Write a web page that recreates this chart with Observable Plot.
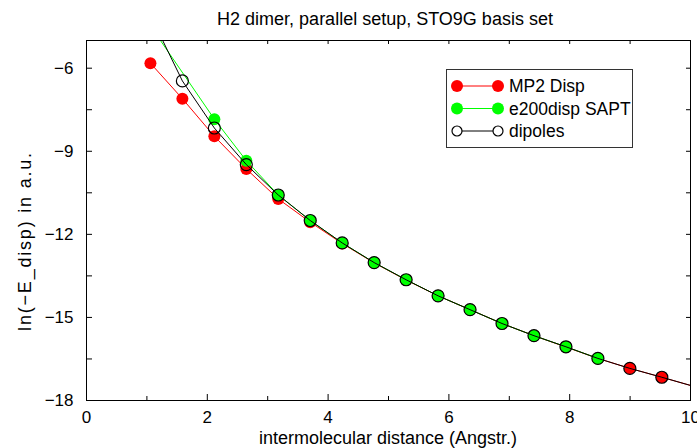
<!DOCTYPE html>
<html><head><meta charset="utf-8">
<script src="https://cdn.jsdelivr.net/npm/d3@7"></script>
<script src="https://cdn.jsdelivr.net/npm/@observablehq/plot@0.6"></script>
<style>
body{margin:0;background:#fff;overflow:hidden;font-family:"Liberation Sans",Arial,sans-serif;}
#wrap{position:relative;width:697px;height:448px;overflow:hidden;background:#fff;}
#title{width:697px;height:30px;box-sizing:border-box;padding-left:73px;padding-top:10px;font-size:18px;line-height:18px;text-align:center;color:#000;white-space:nowrap;}
svg{display:block;overflow:visible;}
</style></head><body><div id="wrap"><div id="title"></div></div>
<script>
const titleText = "H2 dimer, parallel setup, STO9G basis set";
const xLabel = "intermolecular distance (Angstr.)";
const yLabel = "ln(−E_disp) in a.u.";
const seriesNames = ["MP2 Disp", "e200disp SAPT", "dipoles"];
const seriesColors = ["#ff0000", "#00ff00", "#000000"];

// distances in bohr (converted to Angstrom below)
const bohrToAngstrom = 0.529177;
const mp2Bohr = [2,3,4,5,6,7,8,9,10,11,12,13,14,15,16,17,18,19];
const mp2Vals = [-5.82,-7.10,-8.46,-9.64,-10.72,-11.56,-12.33,-13.03,-13.65,-14.22,-14.72,-15.22,-15.66,-16.07,-16.48,-16.84,-17.16,-17.49];
const saptBohr = [2,4,5,6,7,8,9,10,11,12,13,14,15,16];
const saptVals = [-4.47,-7.84,-9.34,-10.58,-11.50,-12.31,-13.02,-13.64,-14.22,-14.72,-15.22,-15.66,-16.06,-16.48];
const dipBohr = [2,3,4,5,6,7,8,9,10,11,12,13,14,15,16,17,18,19];
const dipVals = [-4.09,-6.46,-8.16,-9.48,-10.58,-11.50,-12.31,-13.02,-13.64,-14.22,-14.72,-15.22,-15.66,-16.06,-16.48,-16.84,-17.16,-17.49];

const xTicks = [0,2,4,6,8,10];
const xMinorTicks = [1,3,5,7,9];
const yTicks = [-18,-15,-12,-9,-6];
const yMinorTicks = [-16.5,-13.5,-10.5,-7.5];
const xDomain = [0,10];
const yDomain = [-18,-5];

const toRows = (ns, vs) => ns.map((n,i) => ({x: n*bohrToAngstrom, y: vs[i]}));
const mp2 = toRows(mp2Bohr, mp2Vals);
const sapt = toRows(saptBohr, saptVals);
const dip = toRows(dipBohr, dipVals);
const inRange = d => d.x >= xDomain[0] && d.x <= xDomain[1] && d.y >= yDomain[0] && d.y <= yDomain[1];

document.getElementById("title").textContent = titleText;

const W = 697, H = 418, mL = 86, mR = 7, mT = 10, mB = 48;
const pw = W - mL - mR, ph = H - mT - mB;
const fmt = d => d < 0 ? "\u2212" + Math.abs(d) : String(d);

const chart = Plot.plot({
  width: W, height: H,
  marginLeft: mL, marginRight: mR, marginTop: mT, marginBottom: mB,
  style: {fontFamily: "'Liberation Sans', Arial, sans-serif", fontSize: "17px", color: "#000", background: "#fff", overflow: "visible"},
  x: {domain: xDomain},
  y: {domain: yDomain},
  marks: [
    // inward ticks, bottom/top
    Plot.ruleX(xTicks, {x: d => d, insetTop: ph - 6, stroke: "#000"}),
    Plot.ruleX(xMinorTicks, {x: d => d, insetTop: ph - 4, stroke: "#000"}),
    Plot.ruleX(xTicks, {x: d => d, insetBottom: ph - 4, stroke: "#000"}),
    Plot.ruleX(xMinorTicks, {x: d => d, insetBottom: ph - 4, stroke: "#000"}),
    // inward ticks, left/right
    Plot.ruleY(yTicks, {y: d => d, insetRight: pw - 6, stroke: "#000"}),
    Plot.ruleY(yMinorTicks, {y: d => d, insetRight: pw - 6, stroke: "#000"}),
    Plot.ruleY(yTicks, {y: d => d, insetLeft: pw - 4, stroke: "#000"}),
    Plot.ruleY(yMinorTicks, {y: d => d, insetLeft: pw - 4, stroke: "#000"}),
    Plot.axisX(xTicks, {tickSize: 0, tickPadding: 10, label: null, fontSize: 17, tickFormat: fmt}),
    Plot.axisY(yTicks, {tickSize: 0, tickPadding: 13, label: null, fontSize: 17, tickFormat: fmt}),
    Plot.line(mp2, {x: "x", y: "y", stroke: seriesColors[0], strokeWidth: 1, clip: true}),
    Plot.dot(mp2.filter(inRange), {x: "x", y: "y", r: 6, fill: seriesColors[0], stroke: "none"}),
    Plot.line(sapt, {x: "x", y: "y", stroke: seriesColors[1], strokeWidth: 1, clip: true}),
    Plot.dot(sapt.filter(inRange), {x: "x", y: "y", r: 6, fill: seriesColors[1], stroke: "none"}),
    Plot.line(dip, {x: "x", y: "y", stroke: seriesColors[2], strokeWidth: 1, clip: true}),
    Plot.dot(dip.filter(inRange), {x: "x", y: "y", r: 6, fill: "none", stroke: seriesColors[2], strokeWidth: 1.2}),
    Plot.frame({stroke: "#000", strokeWidth: 1})
  ]
});
document.getElementById("wrap").appendChild(chart);

const svg = d3.select(chart);
// axis titles
svg.append("text")
  .attr("x", mL + pw / 2).attr("y", 414)
  .attr("text-anchor", "middle").attr("font-size", 18).attr("fill", "#000")
  .text(xLabel);
svg.append("text")
  .attr("transform", "translate(31,211) rotate(-90)")
  .attr("text-anchor", "middle").attr("font-size", 18).attr("fill", "#000")
  .attr("letter-spacing", "1.8px")
  .text(yLabel);

// legend
const lg = svg.append("g").attr("text-anchor", "start");
lg.append("rect").attr("x", 446.5).attr("y", 39.5).attr("width", 186).attr("height", 78)
  .attr("fill", "#fff").attr("stroke", "#333").attr("stroke-width", 1);
const rowY = [56, 78.5, 101];
seriesNames.forEach((name, i) => {
  const y = rowY[i];
  lg.append("line").attr("x1", 457).attr("x2", 498).attr("y1", y).attr("y2", y)
    .attr("stroke", seriesColors[i]).attr("stroke-width", 1);
  [457, 498].forEach(cx => {
    const c = lg.append("circle").attr("cx", cx).attr("cy", y).attr("r", i === 2 ? 5 : 6);
    if (i === 2) c.attr("fill", "#fff").attr("stroke", "#000").attr("stroke-width", 1.2);
    else c.attr("fill", seriesColors[i]);
  });
  lg.append("text").attr("x", 509).attr("y", y + 6.3).attr("text-anchor", "start")
    .attr("font-size", 17.5).attr("fill", "#000").text(name);
});
</script>
</body></html>
